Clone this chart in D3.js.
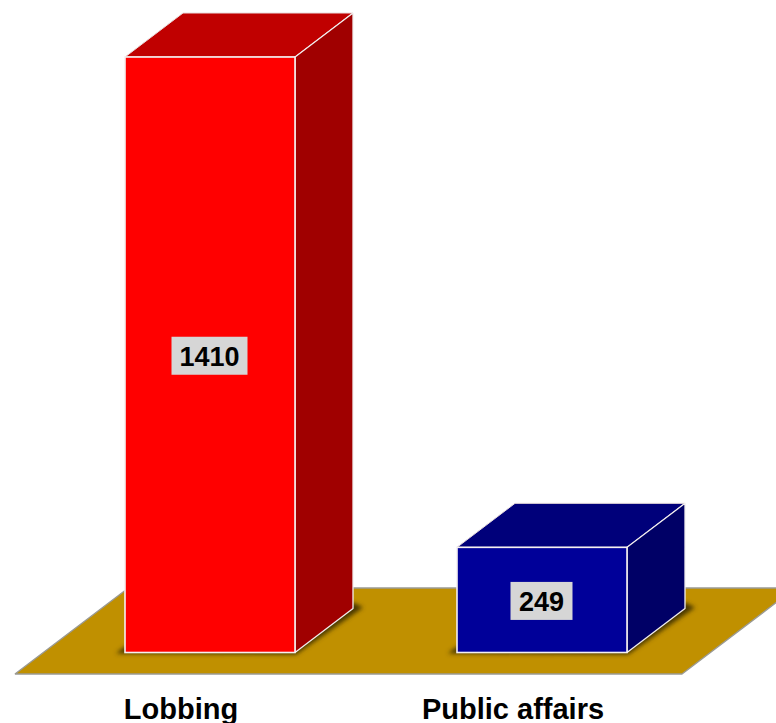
<!DOCTYPE html>
<html>
<head>
<meta charset="utf-8">
<script src="https://cdn.jsdelivr.net/npm/d3@7"></script>
<style>
  html, body { margin: 0; padding: 0; background: #fff; }
  svg { display: block; }
  text { font-family: "Liberation Sans", Arial, sans-serif; font-weight: bold; fill: #000; }
</style>
</head>
<body>
<svg id="chart" width="776" height="723"></svg>
<script>
const categories = ["Lobbing", "Public affairs"];
const values = [1410, 249];
const faceColors = ["#ff0000", "#000099"];
const topColors = ["#c00000", "#00007a"];
const sideColors = ["#a00000", "#000066"];

const svg = d3.select("#chart");
const depthX = 58, depthY = 44;
const baseY = 652.5, floorFront = 674, floorBack = 588;

const x = d3.scaleBand().domain(categories).range([125, 627])
  .paddingInner(162 / 332).paddingOuter(0);
const y = d3.scaleLinear().domain([0, 1410]).range([baseY, 57]);

const line = d3.line();

const defs = svg.append("defs");
defs.append("filter").attr("id", "soft")
  .attr("x", "-20%").attr("y", "-20%").attr("width", "140%").attr("height", "140%")
  .append("feGaussianBlur").attr("stdDeviation", 2);

// Floor plate, running off the right edge of the page
const floorSlope = depthX / depthY;
const floorDepth = (floorFront - floorBack) * floorSlope;
svg.append("path")
  .attr("d", line([[15, floorFront], [682, floorFront],
                   [682 + floorDepth, floorBack], [15 + floorDepth, floorBack]]) + "Z")
  .attr("fill", "#c09000").attr("stroke", "#9a9a94").attr("stroke-width", 1.4)
  .attr("stroke-linejoin", "bevel");

const bars = svg.selectAll("g.bar").data(categories).join("g").attr("class", "bar");

// Soft contact shadow around the foot of each box
bars.append("path")
  .attr("d", d => {
    const l = x(d), r = l + x.bandwidth();
    return line([[l - 9, baseY + 1], [r + 1, baseY + 2],
                 [r + depthX + 10, baseY - depthY - 1], [r + depthX, baseY - depthY - 6],
                 [l, baseY - 6]]) + "Z";
  })
  .attr("fill", "#4a3800").attr("filter", "url(#soft)");

// Top face
bars.append("path")
  .attr("d", (d, i) => {
    const l = x(d), r = l + x.bandwidth(), t = y(values[i]);
    return line([[l, t], [r, t], [r + depthX, t - depthY], [l + depthX, t - depthY]]) + "Z";
  })
  .attr("fill", (d, i) => topColors[i])
  .attr("stroke", "#e8dcdc").attr("stroke-width", 1).attr("stroke-linejoin", "bevel");

// Side face
bars.append("path")
  .attr("d", (d, i) => {
    const r = x(d) + x.bandwidth(), t = y(values[i]);
    return line([[r, t], [r + depthX, t - depthY], [r + depthX, baseY - depthY], [r, baseY]]) + "Z";
  })
  .attr("fill", (d, i) => sideColors[i])
  .attr("stroke", "#f2eeee").attr("stroke-width", 1.3).attr("stroke-linejoin", "bevel");

// Front face
bars.append("rect")
  .attr("x", d => x(d))
  .attr("y", (d, i) => y(values[i]))
  .attr("width", x.bandwidth())
  .attr("height", (d, i) => baseY - y(values[i]))
  .attr("fill", (d, i) => faceColors[i])
  .attr("stroke", "#f5f0f0").attr("stroke-width", 1.6);

// Value tags on the front faces
const tagWidths = [76, 62], tagHeight = 38;
bars.append("rect")
  .attr("x", (d, i) => x(d) + x.bandwidth() / 2 - tagWidths[i] / 2 - 0.5)
  .attr("y", (d, i) => (y(values[i]) + baseY) / 2 - tagHeight / 2 + 1)
  .attr("width", (d, i) => tagWidths[i])
  .attr("height", tagHeight)
  .attr("fill", "#d6d6d6");
bars.append("text")
  .attr("x", d => x(d) + x.bandwidth() / 2 - 0.5)
  .attr("y", (d, i) => (y(values[i]) + baseY) / 2 + 11)
  .attr("text-anchor", "middle")
  .attr("font-size", 27)
  .text((d, i) => values[i]);

// Category labels under the floor
bars.append("text")
  .attr("x", d => x(d) + x.bandwidth() / 2 - 29)
  .attr("y", 719)
  .attr("text-anchor", "middle")
  .attr("font-size", 29)
  .text(d => d);
</script>
</body>
</html>
